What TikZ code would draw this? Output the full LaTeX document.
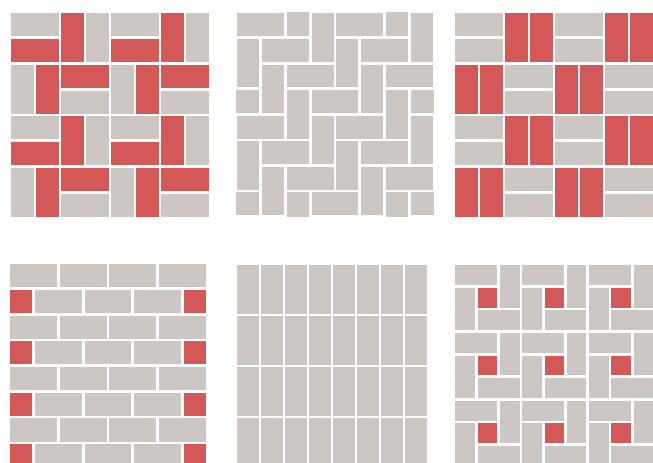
\documentclass[tikz,border=0pt]{standalone}
\usepackage{tikz}
\definecolor{tilegrey}{RGB}{205,199,195}
\definecolor{tilered}{RGB}{212,88,88}
\tikzset{
  tile/.style={draw=white, line width=1.5pt},
  greytile/.style={tile, fill=tilegrey},
  redtile/.style={tile, fill=tilered}
}

\begin{document}
\begin{tikzpicture}[x=0.02cm, y=-0.02cm]
  \clip (0,0) rectangle (653,463);
  \fill[white] (0,0) rectangle (653,463);

  % Pinwheel weave, red and grey
  \begin{scope}[shift={(10,12)}, x=0.5cm, y=-0.515cm]
    \clip (0,0) rectangle (8,8);
    \foreach \i in {0,4} \foreach \j in {0,4} {
      \draw[greytile] (\i,\j) rectangle ++(2,1);
      \draw[redtile] (\i,\j+1) rectangle ++(2,1);
      \draw[redtile] (\i+2,\j) rectangle ++(1,2);
      \draw[greytile] (\i+3,\j) rectangle ++(1,2);
      \draw[greytile] (\i,\j+2) rectangle ++(1,2);
      \draw[redtile] (\i+1,\j+2) rectangle ++(1,2);
      \draw[redtile] (\i+2,\j+2) rectangle ++(2,1);
      \draw[greytile] (\i+2,\j+3) rectangle ++(2,1);
    }
  \end{scope}

  % Herringbone
  \begin{scope}[shift={(236,12)}, x=0.495cm, y=-0.512cm]
    \clip (0,0) rectangle (8,8);
    \foreach \r in {-1,...,7} {
      \foreach \k in {-2,...,1} {
        \pgfmathtruncatemacro\col{\r+4*\k}
        \draw[greytile] (\col,\r) rectangle ++(2,1);
        \draw[greytile] (\col+3,\r) rectangle ++(1,2);
      }
    }
  \end{scope}

  % Basket weave
  \begin{scope}[shift={(454,12)}, x=0.5cm, y=-0.515cm]
    \clip (0,0) rectangle (8,8);
    \foreach \i in {0,...,3} \foreach \j in {0,...,3} {
      \ifodd\numexpr\i+\j\relax
        \draw[redtile] (2*\i,2*\j) rectangle ++(1,2);
        \draw[redtile] (2*\i+1,2*\j) rectangle ++(1,2);
      \else
        \draw[greytile] (2*\i,2*\j) rectangle ++(2,1);
        \draw[greytile] (2*\i,2*\j+1) rectangle ++(2,1);
      \fi
    }
  \end{scope}

  % Running bond with red ends
  \begin{scope}[shift={(9,263)}, x=0.495cm, y=-0.514cm]
    \clip (0,0) rectangle (8,8);
    \foreach \r in {0,2,4,6} {
      \foreach \c in {0,2,4,6}
        \draw[greytile] (\c,\r) rectangle ++(2,1);
      \draw[redtile] (0,\r+1) rectangle ++(1,1);
      \foreach \c in {1,3,5}
        \draw[greytile] (\c,\r+1) rectangle ++(2,1);
      \draw[redtile] (7,\r+1) rectangle ++(1,1);
    }
  \end{scope}

  % Stack bond, upright
  \begin{scope}[shift={(236,264)}, x=0.48cm, y=-1.02cm]
    \clip (0,0) rectangle (8,4);
    \foreach \c in {0,...,7} \foreach \r in {0,...,3}
      \draw[greytile] (\c,\r) rectangle ++(1,1);
  \end{scope}

  % Pinwheel with red centre
  \begin{scope}[shift={(454,264)}, x=0.446cm, y=-0.451cm]
    \clip (0,0) rectangle (9,9);
    \foreach \i in {0,3,6} \foreach \j in {0,3,6} {
      \draw[greytile] (\i,\j) rectangle ++(2,1);
      \draw[greytile] (\i+2,\j) rectangle ++(1,2);
      \draw[greytile] (\i,\j+1) rectangle ++(1,2);
      \draw[greytile] (\i+1,\j+2) rectangle ++(2,1);
      \draw[redtile] (\i+1,\j+1) rectangle ++(1,1);
    }
  \end{scope}
\end{tikzpicture}
\end{document}
